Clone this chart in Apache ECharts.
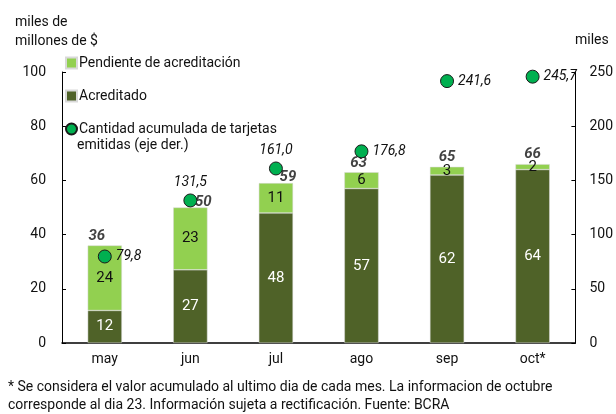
<!DOCTYPE html>
<html>
<head>
<meta charset="utf-8">
<script src="https://cdn.jsdelivr.net/npm/echarts@6/dist/echarts.min.js"></script>
<style>
  html, body { margin: 0; padding: 0; background: #fff; }
  #chart { width: 616px; height: 414px; }
</style>
</head>
<body>
<div id="chart"></div>
<script>
const months = ['may', 'jun', 'jul', 'ago', 'sep', 'oct*']
const acreditado = [12, 27, 48, 57, 62, 64]
const pendiente = [24, 23, 11, 6, 3, 2]
const totales = [36, 50, 59, 63, 65, 66]
const tarjetas = [79.8, 131.5, 161.0, 176.8, 241.6, 245.7]
const leftTicks = [0, 20, 40, 60, 80, 100]
const rightTicks = [0, 50, 100, 150, 200, 250]

// posiciones de etiquetas (solo estilo)
const totalOffsets = [[-8, 0], [13, 4], [12, 4], [-3, 0], [0, 0], [0, 0]]
const dotLabelPos = ['right', 'top', 'top', 'right', 'right', 'right']

const FONT = 'Roboto'
const chart = echarts.init(document.getElementById('chart'))

chart.setOption({
    animation: false,
    textStyle: { fontFamily: FONT },
    grid: { left: 62, right: 40, top: 72, bottom: 71 },
    legend: {
        orient: 'vertical',
        left: 60,
        top: 49,
        itemWidth: 11,
        itemHeight: 11,
        itemGap: 15,
        textStyle: { fontFamily: FONT, fontSize: 14, color: '#111', lineHeight: 18, padding: [0, 0, 0, -3] },
        data: [
            { name: 'Pendiente de acreditación', icon: 'rect' },
            { name: 'Acreditado', icon: 'rect' },
            { name: 'Cantidad acumulada de tarjetas', icon: 'circle' }
        ]
    },
    xAxis: {
        type: 'category',
        data: months,
        axisLine: { lineStyle: { color: '#000', width: 1.5 } },
        axisTick: { show: false },
        axisLabel: { color: '#111', fontSize: 14, margin: 9 }
    },
    yAxis: [{
        type: 'value', min: 0, max: 100, interval: 20,
        axisLine: { show: true, lineStyle: { color: '#000' } },
        axisTick: { show: true, inside: true, length: 4, lineStyle: { color: '#000' } },
        splitLine: { show: false },
        axisLabel: {
            color: '#111', fontSize: 14, margin: 16,
            formatter: v => leftTicks.includes(v) ? String(v) : ''
        }
    }, {
        type: 'value', min: 0, max: 250, interval: 50,
        axisLine: { show: true, lineStyle: { color: '#000' } },
        axisTick: { show: true, inside: true, length: 4, lineStyle: { color: '#000' } },
        splitLine: { show: false },
        axisLabel: {
            color: '#111', fontSize: 14, margin: 14,
            formatter: v => rightTicks.includes(v) ? String(v) : ''
        }
    }],
    series: [{
        name: 'Acreditado',
        type: 'bar',
        stack: 'total',
        barWidth: '40%',
        data: acreditado,
        itemStyle: { color: '#4F6228', borderColor: '#d9d9d9', borderWidth: 0.5 },
        label: { show: true, position: 'inside', color: '#fff', fontSize: 15 }
    }, {
        name: 'Pendiente de acreditación',
        type: 'bar',
        stack: 'total',
        barWidth: '40%',
        data: pendiente,
        itemStyle: { color: '#92D050', borderColor: '#d9d9d9', borderWidth: 0.5 },
        label: { show: true, position: 'inside', color: '#111', fontSize: 15 }
    }, {
        name: 'totales',
        type: 'scatter',
        symbolSize: 0,
        silent: true,
        data: totales.map((v, i) => ({
            value: v,
            label: { offset: totalOffsets[i] }
        })),
        label: {
            show: true, position: 'top', distance: 2,
            fontSize: 15, fontWeight: 'bold', fontStyle: 'italic', color: '#111'
        },
        z: 5
    }, {
        name: 'Cantidad acumulada de tarjetas',
        type: 'scatter',
        yAxisIndex: 1,
        symbolSize: 13,
        data: tarjetas.map((v, i) => ({
            value: v,
            label: { position: dotLabelPos[i] }
        })),
        itemStyle: { color: '#00B050', borderColor: '#1a1a1a', borderWidth: 1, opacity: 1 },
        label: {
            show: true, fontSize: 14, fontStyle: 'italic', color: '#111', distance: 4,
            formatter: p => p.value.toFixed(1).replace('.', ',')
        },
        z: 6
    }],
    graphic: [{
        type: 'text', left: 15, top: 13,
        style: { text: 'miles de\nmillones de $', font: '14px Roboto', fill: '#111', lineHeight: 19 }
    }, {
        type: 'text', left: 575, top: 33,
        style: { text: 'miles', font: '14px Roboto', fill: '#111' }
    }, {
        type: 'text', left: 77, top: 138,
        style: { text: 'emitidas (eje der.)', font: '14px Roboto', fill: '#111' }
    }, {
        type: 'text', left: 8, top: 378,
        style: {
            text: '* Se considera el valor acumulado al ultimo dia de cada mes. La informacion de octubre\ncorresponde al dia 23. Información sujeta a rectificación. Fuente: BCRA',
            font: '14px Roboto', fill: '#111', lineHeight: 18
        }
    }]
})
</script>
</body>
</html>
